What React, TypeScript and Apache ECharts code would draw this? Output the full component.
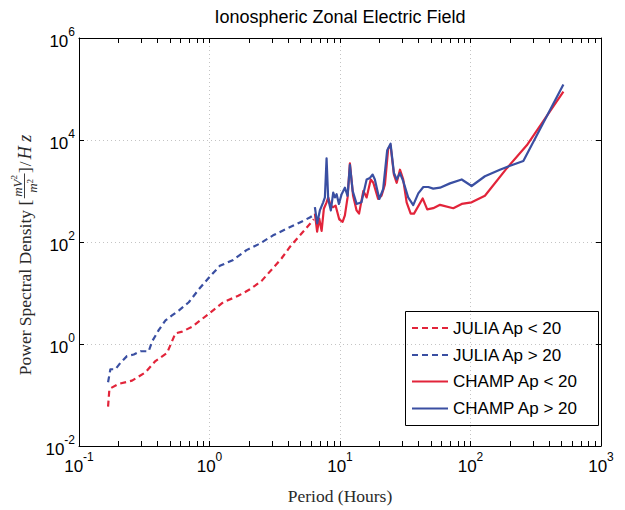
import React, { useEffect, useRef } from "react";
import * as echarts from "echarts";

// ---- data (period in hours, PSD) ----
const juliaLowPeriod = [0.167, 0.171, 0.2015, 0.255, 0.323, 0.385, 0.473, 0.548, 0.617, 0.736, 0.988, 1.27, 1.66, 2.04, 2.5, 2.99, 3.57, 4.13, 4.93, 5.87, 6.3];
const juliaLowPsd = [0.059, 0.132, 0.165, 0.191, 0.277, 0.463, 0.668, 1.62, 1.75, 2.18, 3.92, 6.58, 8.8, 11.8, 17.1, 28.7, 48, 80, 135, 225, 280];

const juliaHighPeriod = [0.167, 0.174, 0.19, 0.208, 0.233, 0.263, 0.296, 0.342, 0.363, 0.408, 0.46, 0.516, 0.581, 0.694, 0.828, 0.988, 1.2, 1.52, 1.92, 2.43, 3.07, 3.89, 4.93, 5.87, 6.3];
const juliaHighPsd = [0.178, 0.32, 0.32, 0.43, 0.578, 0.621, 0.721, 0.72, 1.12, 1.87, 2.91, 3.63, 4.53, 6.58, 11.8, 19.9, 34.1, 44.6, 69.3, 93, 135, 181, 242, 302, 340];

const champLowPeriod = [6.42, 6.68, 6.93, 7.23, 7.52, 7.89, 8.12, 8.47, 8.87, 9.25, 9.86, 10.47, 10.9, 11.43, 11.91, 12.6, 13.4, 14.0, 15.1, 16.0, 17.2, 18.0, 19.6, 20.8, 22.1, 23.4, 24.4, 25.9, 27.2, 28.8, 30.5, 32.4, 34.8, 36.9, 43.0, 46.6, 51.8, 58.4, 73.8, 85.6, 102, 129, 190, 270, 515];
const champLowPsd = [360, 160, 288, 165, 448, 600, 748, 518, 481, 518, 279, 248, 333, 748, 3500, 805, 416, 360, 1005, 748, 1683, 1449, 697, 805, 1350, 6780, 7880, 2099, 1449, 2616, 1683, 600, 360, 360, 715, 435, 460, 535, 460, 558, 600, 805, 2805, 7880, 89000];

const champHighPeriod = [6.42, 6.68, 7.01, 7.43, 7.66, 7.89, 8.12, 8.51, 8.87, 9.14, 9.42, 9.81, 10.29, 10.9, 11.43, 11.91, 12.5, 13.4, 14.6, 16.0, 16.95, 17.8, 18.5, 20.0, 21.4, 23.0, 24.4, 25.9, 27.2, 28.8, 30.5, 33.3, 36.4, 39.8, 43.5, 47.5, 51.8, 58.4, 69.6, 85.6, 102, 129, 168, 201, 254, 515];
const champHighPsd = [481, 231, 416, 600, 748, 4365, 697, 416, 932, 748, 868, 558, 868, 1161, 805, 3260, 1005, 558, 600, 1683, 1806, 2099, 1683, 697, 1082, 6320, 8460, 2250, 1683, 2250, 1561, 748, 530, 900, 1199, 1199, 1112, 1161, 1411, 1683, 1253, 1947, 2616, 3120, 3890, 123000];

const seriesNames = ["JULIA Ap < 20", "JULIA Ap > 20", "CHAMP Ap < 20", "CHAMP Ap > 20"];
const seriesColors = ["#E2243A", "#3A4FA2", "#E2243A", "#3A4FA2"];
const seriesDashed = [true, true, false, false];

const xDecades = [-1, 0, 1, 2];
const minorMultipliers = [1, 2, 3, 4, 5, 6, 7, 8, 9];
const xTickValues: number[] = [];
xDecades.forEach((d) => minorMultipliers.forEach((m) => xTickValues.push(d + Math.log10(m))));
xTickValues.push(3);

const titleText = "Ionospheric Zonal Electric Field";
const xAxisTitle = "Period (Hours)";

const SANS = "'Liberation Sans', Arial, Helvetica, sans-serif";
const SERIF = "'Liberation Serif', 'Times New Roman', serif";

function measure(text: string, font: string): number {
  const c = document.createElement("canvas").getContext("2d");
  if (!c) return text.length * 8;
  c.font = font;
  return c.measureText(text).width;
}

function zip(a: number[], b: number[]) {
  return a.map((v, i) => [v, b[i]]);
}

export default function App() {
  const ref = useRef<HTMLDivElement>(null);
  useEffect(() => {
    if (!ref.current) return;
    const chart = echarts.init(ref.current, undefined, { renderer: "svg" });

    const expLabel = (v: number) => {
      const e = Math.round(Math.log10(v));
      return `{b|10}{s|${e}}`;
    };
    const rich = {
      b: { fontSize: 17, fontFamily: SANS, color: "#000", lineHeight: 24, verticalAlign: "bottom" },
      s: { fontSize: 12, fontFamily: SANS, color: "#000", lineHeight: 10, verticalAlign: "top" },
    };
    const gridLine = { show: true, lineStyle: { color: "#c4c4c4", type: [1, 3], width: 1 } };

    // ---- y-axis name (rotated, with stacked fraction) ----
    const INK = "#2a2a2a";
    const mainFont = `17.5px ${SERIF}`;
    const fracFont = `italic 13px ${SERIF}`;
    const supFont = `9px ${SERIF}`;
    const hzFont = `italic 18px ${SERIF}`;
    const t1 = "Power Spectral Density ";
    const w1 = measure(t1, mainFont);
    const wBr = measure("[", mainFont) + 1;
    const wNumBase = measure("mV", fracFont);
    const wSup = measure("2", supFont);
    const wDenBase = measure("m", fracFont);
    const wNum = wNumBase + wSup;
    const wDen = wDenBase + wSup;
    const wFrac = Math.max(wNum, wDen) + 4;
    const wBr2 = measure("]", mainFont) + 1;
    const wSl = measure("/", mainFont) + 2;
    const wHz = measure("H z", hzFont);
    const total = w1 + wBr + wFrac + wBr2 + wSl + wHz;
    const fx = w1 + wBr;
    const numX = fx + (wFrac - wNum) / 2;
    const denX = fx + (wFrac - wDen) / 2;
    const yNameChildren: any[] = [
      { type: "text", x: 0, y: 0, style: { text: t1, font: mainFont, fill: INK, verticalAlign: "middle" } },
      { type: "text", x: w1, y: 0, style: { text: "[", font: mainFont, fill: INK, verticalAlign: "middle" } },
      { type: "text", x: numX, y: -7.5, style: { text: "mV", font: fracFont, fill: INK, verticalAlign: "middle" } },
      { type: "text", x: numX + wNumBase, y: -11.5, style: { text: "2", font: supFont, fill: INK, verticalAlign: "middle" } },
      { type: "line", shape: { x1: fx + 0.5, y1: -0.5, x2: fx + wFrac - 0.5, y2: -0.5 }, style: { stroke: INK, lineWidth: 0.9 } },
      { type: "text", x: denX, y: 7.5, style: { text: "m", font: fracFont, fill: INK, verticalAlign: "middle" } },
      { type: "text", x: denX + wDenBase, y: 4.5, style: { text: "2", font: supFont, fill: INK, verticalAlign: "middle" } },
      { type: "text", x: fx + wFrac, y: 0, style: { text: "]", font: mainFont, fill: INK, verticalAlign: "middle" } },
      { type: "text", x: fx + wFrac + wBr2, y: 0, style: { text: "/", font: mainFont, fill: INK, verticalAlign: "middle" } },
      { type: "text", x: fx + wFrac + wBr2 + wSl, y: 0, style: { text: "H z", font: hzFont, fill: INK, verticalAlign: "middle" } },
    ];

    // ---- legend (graphic) ----
    const lgX = 405.5, lgY = 311.5, lgW = 193, lgH = 114;
    const rowY = [328, 355, 381.5, 408.5];
    const legendChildren: any[] = [
      { type: "rect", shape: { x: lgX, y: lgY, width: lgW, height: lgH }, style: { fill: "#fff", stroke: "#000", lineWidth: 1 } },
    ];
    seriesNames.forEach((name, i) => {
      legendChildren.push({
        type: "line",
        shape: { x1: 412, y1: rowY[i], x2: 448, y2: rowY[i] },
        style: { stroke: seriesColors[i], lineWidth: 2.2, lineDash: seriesDashed[i] ? [6, 4] : null },
      });
      legendChildren.push({
        type: "text",
        x: 453,
        y: rowY[i],
        style: { text: name, font: `17px ${SANS}`, fill: "#000", verticalAlign: "middle" },
      });
    });

    const periods = [juliaLowPeriod, juliaHighPeriod, champLowPeriod, champHighPeriod];
    const psds = [juliaLowPsd, juliaHighPsd, champLowPsd, champHighPsd];

    chart.setOption({
      animation: false,
      backgroundColor: "#fff",
      grid: { left: 79, right: 24, top: 38, bottom: 54, containLabel: false },
      xAxis: [
        {
          type: "log",
          logBase: 10,
          min: 0.1,
          max: 1000,
          interval: 1,
          position: "bottom",
          axisLine: { show: true, onZero: false, lineStyle: { color: "#000", width: 1 } },
          axisTick: { show: false },
          axisLabel: { show: true, formatter: expLabel, rich, margin: 5, color: "#000" },
          splitLine: gridLine,
          name: xAxisTitle,
          nameLocation: "middle",
          nameGap: 41,
          nameTextStyle: { fontFamily: SERIF, fontSize: 17.5, color: INK },
        },
        {
          type: "value",
          min: -1,
          max: 3,
          position: "bottom",
          axisLine: { show: false, onZero: false },
          axisTick: { show: true, inside: true, length: 5, customValues: xTickValues, lineStyle: { color: "#000" } },
          axisLabel: { show: false },
          splitLine: { show: false },
        },
        {
          type: "value",
          min: -1,
          max: 3,
          position: "top",
          axisLine: { show: true, onZero: false, lineStyle: { color: "#000", width: 1 } },
          axisTick: { show: true, inside: true, length: 5, customValues: xTickValues, lineStyle: { color: "#000" } },
          axisLabel: { show: false },
          splitLine: { show: false },
        },
      ],
      yAxis: [
        {
          type: "log",
          logBase: 10,
          min: 0.01,
          max: 1000000,
          interval: 2,
          splitNumber: 4,
          position: "left",
          axisLine: { show: true, onZero: false, lineStyle: { color: "#000", width: 1 } },
          axisTick: { show: true, inside: true, length: 5, lineStyle: { color: "#000" } },
          axisLabel: { show: true, formatter: expLabel, rich, margin: 4, color: "#000" },
          splitLine: gridLine,
        },
        {
          type: "log",
          logBase: 10,
          min: 0.01,
          max: 1000000,
          interval: 2,
          splitNumber: 4,
          position: "right",
          axisLine: { show: true, onZero: false, lineStyle: { color: "#000", width: 1 } },
          axisTick: { show: true, inside: true, length: 5, lineStyle: { color: "#000" } },
          axisLabel: { show: false },
          splitLine: { show: false },
        },
      ],
      series: seriesNames.map((name, i) => ({
        name,
        type: "line",
        xAxisIndex: 0,
        yAxisIndex: 0,
        data: zip(periods[i], psds[i]),
        symbol: "none",
        showSymbol: false,
        lineStyle: {
          color: seriesColors[i],
          width: 2.2,
          type: seriesDashed[i] ? [6, 4] : "solid",
          cap: "butt",
          join: "round",
        },
        itemStyle: { color: seriesColors[i] },
        z: 2 + i,
      })),
      graphic: [
        {
          type: "text",
          x: 340,
          y: 17,
          style: { text: titleText, font: `18px ${SANS}`, fill: "#000", align: "center", verticalAlign: "middle" },
        },
        {
          type: "group",
          x: 25,
          y: 255 + total / 2,
          rotation: Math.PI / 2,
          children: yNameChildren,
        },
        { type: "group", children: legendChildren, z: 100 },
      ],
    });
    return () => chart.dispose();
  }, []);
  return <div ref={ref} style={{ position: "absolute", left: 0, top: 0, width: 625, height: 510 }} />;
}
